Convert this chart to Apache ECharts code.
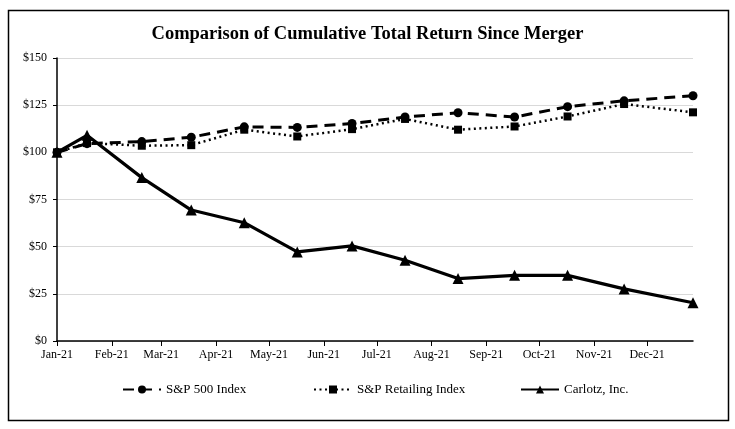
<!DOCTYPE html>
<html>
<head>
<meta charset="utf-8">
<script src="https://cdn.jsdelivr.net/npm/echarts@6/dist/echarts.min.js"></script>
<style>
html, body { margin: 0; padding: 0; background: #fff; }
#chart { width: 735px; height: 429px; }
</style>
</head>
<body>
<div id="chart"></div>
<script>
"use strict";
var textColor = '#000';
var fontName = '"Liberation Serif", "Times New Roman", serif';

var dates = [ '2021-01-01', '2021-01-18', '2021-02-18', '2021-03-18', '2021-04-17',
		'2021-05-17', '2021-06-17', '2021-07-17', '2021-08-16', '2021-09-17',
		'2021-10-17', '2021-11-18', '2021-12-27' ];
var sp500 = [ 100, 104.6, 105.7, 108, 113.5, 113.2, 115.3, 118.7, 121, 118.7, 124.2, 127.3, 130 ];
var spRetail = [ 100, 104.9, 103.5, 103.8, 112, 108.4, 112.3, 117.7, 112, 113.7, 119, 125.6, 121.2 ];
var carlotz = [ 100, 109, 86.6, 69.4, 62.7, 47.2, 50.4, 42.8, 33.1, 34.8, 34.8, 27.6, 20.3 ];
var monthNames = [ 'Jan', 'Feb', 'Mar', 'Apr', 'May', 'Jun', 'Jul', 'Aug', 'Sep', 'Oct', 'Nov', 'Dec' ];
var seriesNames = [ 'S&P 500 Index', 'S&P Retailing Index', 'Carlotz, Inc.' ];

function pairs(vals) {
	return vals.map(function(v, i) {
		return [ dates[i], v ];
	});
}

// one legend per item, Excel spaces them in fixed slots
function legendItem(name, left) {
	return {
		left : left,
		top : 383,
		padding : 0,
		itemWidth : 38,
		itemHeight : 10,
		textStyle : {
			fontFamily : fontName,
			fontSize : 13,
			color : textColor
		},
		data : [ name ]
	};
}

function returnChart() {
	var chart = echarts.init(document.getElementById('chart'));
	var day = 24 * 3600 * 1000;

	chart.setOption({
		animation : false,
		textStyle : {
			fontFamily : fontName,
			color : textColor
		},
		title : {
			text : 'Comparison of Cumulative Total Return Since Merger',
			left : 'center',
			top : 20,
			textStyle : {
				fontFamily : fontName,
				fontSize : 18.5,
				fontWeight : 'bold',
				color : textColor
			}
		},
		graphic : [ {
			type : 'rect',
			shape : { x : 8.5, y : 10.5, width : 720, height : 410 },
			style : { fill : 'none', stroke : '#000', lineWidth : 1.5 },
			z : 100
		} ],
		legend : [ legendItem(seriesNames[0], 122), legendItem(seriesNames[1], 313),
				legendItem(seriesNames[2], 520) ],
		grid : {
			left : 57,
			right : 42,
			top : 58,
			bottom : 88,
			containLabel : false
		},
		xAxis : {
			type : 'time',
			min : '2021-01-01',
			max : '2021-12-27',
			minInterval : 28 * day,
			maxInterval : 31 * day,
			axisLine : { lineStyle : { color : '#000', width : 1.5 } },
			axisTick : { show : true, length : 5, lineStyle : { color : '#000' } },
			splitLine : { show : false },
			axisLabel : {
				color : textColor,
				fontFamily : fontName,
				fontSize : 12,
				margin : 8,
				showMaxLabel : false,
				hideOverlap : false,
				formatter : function(v) {
					var d = new Date(v);
					return monthNames[d.getMonth()] + '-' + String(d.getFullYear()).slice(2);
				}
			}
		},
		yAxis : {
			type : 'value',
			min : 0,
			max : 150,
			interval : 25,
			axisLine : { show : true, lineStyle : { color : '#000', width : 1.5 } },
			axisTick : { show : true, length : 4, lineStyle : { color : '#000' } },
			splitLine : { lineStyle : { color : '#d9d9d9', width : 1 } },
			axisLabel : {
				color : textColor,
				fontFamily : fontName,
				fontSize : 12,
				margin : 10,
				formatter : function(v) {
					return '$' + v;
				}
			}
		},
		series : [ {
			name : seriesNames[0],
			type : 'line',
			data : pairs(sp500),
			symbol : 'circle',
			symbolSize : 9,
			itemStyle : { color : '#000' },
			lineStyle : { color : '#000', width : 3, type : [ 11, 7 ] }
		}, {
			name : seriesNames[1],
			type : 'line',
			data : pairs(spRetail),
			symbol : 'rect',
			symbolSize : 8,
			itemStyle : { color : '#000' },
			lineStyle : { color : '#000', width : 2.5, type : [ 2, 3.5 ] }
		}, {
			name : seriesNames[2],
			type : 'line',
			data : pairs(carlotz),
			symbol : 'triangle',
			symbolSize : 11,
			itemStyle : { color : '#000' },
			lineStyle : { color : '#000', width : 3.2 }
		} ]
	});
}

returnChart();
</script>
</body>
</html>
